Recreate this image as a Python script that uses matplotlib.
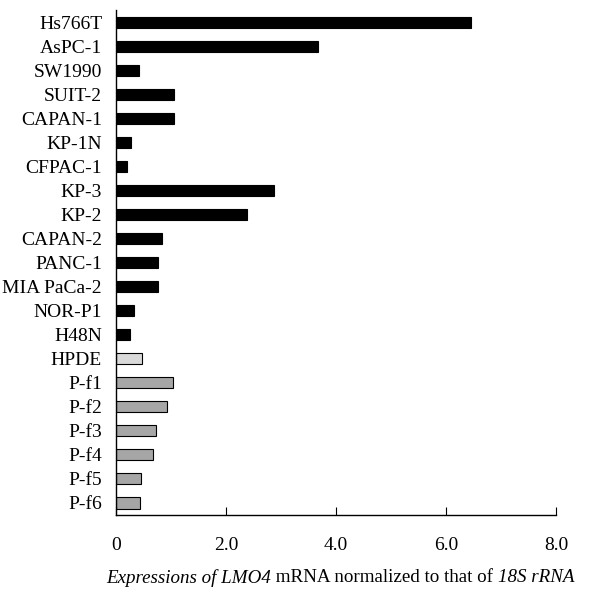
import numpy as np
from matplotlib import pyplot as plt

plt.rcParams['font.family'] = ['Liberation Serif', 'DejaVu Serif']

# cell lines, top to bottom
labels = ["Hs766T", "AsPC-1", "SW1990", "SUIT-2", "CAPAN-1", "KP-1N", "CFPAC-1",
          "KP-3", "KP-2", "CAPAN-2", "PANC-1", "MIA PaCa-2", "NOR-P1", "H48N",
          "HPDE", "P-f1", "P-f2", "P-f3", "P-f4", "P-f5", "P-f6"]
values = [6.45, 3.67, 0.42, 1.06, 1.06, 0.27, 0.20,
          2.88, 2.38, 0.84, 0.77, 0.77, 0.33, 0.25,
          0.47, 1.04, 0.92, 0.72, 0.67, 0.45, 0.43]
groups = ["cancer"] * 14 + ["normal"] + ["fibro"] * 6
xticks = [0, 2, 4, 6, 8]
xticklabels = ["0", "2.0", "4.0", "6.0", "8.0"]
xlabel_parts = [("Expressions of LMO4", "italic"),
                (" mRNA normalized to that of ", "normal"),
                ("18S rRNA", "italic")]

colors = {"cancer": "black", "normal": "#d9d9d9", "fibro": "#a6a6a6"}

fig = plt.figure(figsize=(6, 6.14), dpi=100)
ax = fig.add_axes([0.1933, 0.1612, 0.7334, 0.8225])

y = np.arange(len(labels))
ax.barh(y, values, height=0.46, color=[colors[g] for g in groups],
        edgecolor="black", linewidth=0.8)

ax.set_ylim(len(labels) - 0.5, -0.5)
ax.set_xlim(0, 8)
ax.set_yticks(y)
ax.set_yticklabels(labels, fontsize=14)
ax.set_xticks(xticks)
ax.set_xticklabels(xticklabels, fontsize=14)
ax.tick_params(axis="y", length=0, pad=10)
ax.tick_params(axis="x", direction="in", length=6, pad=16)

for s in ["top", "right"]:
    ax.spines[s].set_visible(False)
ax.spines["left"].set_linewidth(1)
ax.spines["bottom"].set_linewidth(1)

# x label made of italic / upright pieces, centred under the axis
fig.canvas.draw()
renderer = fig.canvas.get_renderer()
texts = []
widths = []
for s, style in xlabel_parts:
    t = fig.text(0, 0, s, fontsize=13.7, style=style, ha="left", va="center")
    texts.append(t)
    widths.append(t.get_window_extent(renderer).width)
W = fig.get_figwidth() * fig.dpi
total = sum(widths)
x0 = 340 - total / 2
for t, w in zip(texts, widths):
    t.set_position((x0 / W, 1 - 578 / 614))
    x0 += w

fig.savefig("out.png", dpi=100)
